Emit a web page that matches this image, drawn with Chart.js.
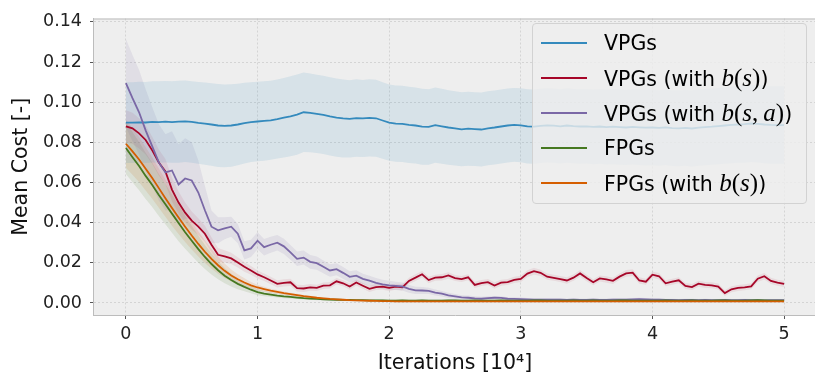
<!DOCTYPE html>
<html><head><meta charset="utf-8">
<script src="https://cdn.jsdelivr.net/npm/chart.js@4.4.0/dist/chart.umd.min.js"></script>
<style>
html,body{margin:0;padding:0;overflow:hidden;background:#fff;}
#wrap{position:relative;width:818px;height:376px;}
#legend{position:absolute;left:532px;top:23px;width:275px;height:181px;box-sizing:border-box;background:rgba(238,238,238,0.8);border:1px solid #d2d2d2;border-radius:4px;font-family:'DejaVu Sans';font-size:20.5px;color:#000;}
.row{position:absolute;left:0;width:100%;height:30px;}
.sw{position:absolute;left:8px;top:14px;width:46px;height:2px;}
.lbl{position:absolute;left:71px;top:0;line-height:30px;white-space:nowrap;}
.mi{font-family:'Liberation Serif';font-style:italic;font-size:25px;}
.mu{font-family:'Liberation Serif';font-size:25px;}
</style></head>
<body><div id="wrap"><canvas id="c" width="818" height="376"></canvas><div id="legend"></div></div>
<script>
// ---------- data ----------
const iterations = [0,0.05,0.1,0.15,0.2,0.25,0.3,0.35,0.4,0.45,0.5,
0.55,0.6,0.65,0.7,0.75,0.8,0.85,0.9,0.95,1,
1.05,1.1,1.15,1.2,1.25,1.3,1.35,1.4,1.45,1.5,
1.55,1.6,1.65,1.7,1.75,1.8,1.85,1.9,1.95,2,
2.05,2.1,2.15,2.2,2.25,2.3,2.35,2.4,2.45,2.5,
2.55,2.6,2.65,2.7,2.75,2.8,2.85,2.9,2.95,3,
3.05,3.1,3.15,3.2,3.25,3.3,3.35,3.4,3.45,3.5,
3.55,3.6,3.65,3.7,3.75,3.8,3.85,3.9,3.95,4,
4.05,4.1,4.15,4.2,4.25,4.3,4.35,4.4,4.45,4.5,
4.55,4.6,4.65,4.7,4.75,4.8,4.85,4.9,4.95,5];

const xTickValues = [0,1,2,3,4,5];
const yTickValues = [0,0.02,0.04,0.06,0.08,0.10,0.12,0.14];

const seriesLabels = ["VPGs","VPGs (with b(s))","VPGs (with b(s,a))","FPGs","FPGs (with b(s))"];

const vpgMean = [0.0898,0.0898,0.0900,0.0899,0.0902,0.0901,0.0903,0.0901,0.0903,0.0905,0.0902,
0.0897,0.0893,0.0889,0.0884,0.0882,0.0884,0.0889,0.0896,0.0901,0.0904,
0.0907,0.0910,0.0916,0.0923,0.0930,0.0938,0.0950,0.0947,0.0942,0.0937,
0.0929,0.0923,0.0919,0.0917,0.0921,0.0919,0.0922,0.0920,0.0909,0.0898,
0.0893,0.0892,0.0887,0.0884,0.0878,0.0877,0.0886,0.0880,0.0874,0.0870,
0.0865,0.0868,0.0866,0.0864,0.0870,0.0874,0.0879,0.0884,0.0887,0.0885,
0.0880,0.0878,0.0882,0.0885,0.0883,0.0880,0.0884,0.0881,0.0879,0.0880,
0.0877,0.0879,0.0876,0.0878,0.0876,0.0874,0.0877,0.0875,0.0873,0.0874,
0.0872,0.0875,0.0871,0.0870,0.0872,0.0869,0.0873,0.0876,0.0878,0.0881,
0.0884,0.0887,0.0889,0.0891,0.0894,0.0892,0.0889,0.0887,0.0886,0.0886];
const vpgStd = [0.0201,0.0201,0.0202,0.0202,0.0202,0.0203,0.0203,0.0203,0.0204,0.0203,0.0203,
0.0204,0.0205,0.0206,0.0207,0.0206,0.0205,0.0203,0.0201,0.0199,0.0198,
0.0198,0.0197,0.0197,0.0198,0.0199,0.0200,0.0198,0.0196,0.0195,0.0195,
0.0195,0.0195,0.0194,0.0193,0.0193,0.0192,0.0192,0.0192,0.0191,0.0190,
0.0190,0.0190,0.0190,0.0189,0.0189,0.0188,0.0187,0.0187,0.0186,0.0185,
0.0184,0.0184,0.0184,0.0184,0.0184,0.0184,0.0184,0.0184,0.0184,0.0184,
0.0185,0.0185,0.0185,0.0185,0.0185,0.0185,0.0185,0.0185,0.0185,0.0185,
0.0186,0.0186,0.0186,0.0187,0.0187,0.0187,0.0187,0.0188,0.0188,0.0188,
0.0188,0.0188,0.0189,0.0189,0.0189,0.0190,0.0190,0.0190,0.0190,0.0190,
0.0191,0.0191,0.0191,0.0192,0.0192,0.0192,0.0193,0.0193,0.0193,0.0193];

const vpgBsMean = [0.0880,0.0870,0.0845,0.0812,0.0760,0.0700,0.0655,0.0565,0.0500,0.0450,0.0410,
0.0380,0.0345,0.0290,0.0240,0.0232,0.0222,0.0202,0.0180,0.0162,0.0142,
0.0128,0.0112,0.0095,0.0100,0.0103,0.0074,0.0072,0.0078,0.0075,0.0086,
0.0088,0.0108,0.0098,0.0082,0.0102,0.0086,0.0070,0.0079,0.0081,0.0075,
0.0081,0.0078,0.0110,0.0126,0.0143,0.0114,0.0126,0.0128,0.0137,0.0124,
0.0119,0.0128,0.0090,0.0099,0.0104,0.0087,0.0101,0.0104,0.0115,0.0120,
0.0146,0.0158,0.0150,0.0131,0.0125,0.0119,0.0112,0.0126,0.0147,0.0124,
0.0103,0.0122,0.0117,0.0110,0.0131,0.0147,0.0151,0.0112,0.0106,0.0141,
0.0133,0.0098,0.0106,0.0113,0.0085,0.0079,0.0096,0.0090,0.0088,0.0082,
0.0049,0.0068,0.0075,0.0078,0.0083,0.0121,0.0133,0.0110,0.0101,0.0095];
const vpgBsStd = [0.0080,0.0078,0.0075,0.0072,0.0068,0.0065,0.0062,0.0060,0.0055,0.0050,0.0045,
0.0042,0.0040,0.0037,0.0034,0.0031,0.0028,0.0026,0.0024,0.0022,0.0020,
0.0019,0.0019,0.0018,0.0018,0.0018,0.0017,0.0017,0.0017,0.0016,0.0016,
0.0016,0.0016,0.0015,0.0016,0.0015,0.0015,0.0016,0.0015,0.0015,0.0015,
0.0015,0.0016,0.0016,0.0017,0.0016,0.0016,0.0015,0.0016,0.0016,0.0015,
0.0015,0.0015,0.0016,0.0015,0.0015,0.0016,0.0015,0.0015,0.0016,0.0016,
0.0017,0.0017,0.0016,0.0016,0.0015,0.0015,0.0016,0.0016,0.0017,0.0016,
0.0015,0.0015,0.0016,0.0015,0.0016,0.0017,0.0017,0.0016,0.0015,0.0016,
0.0016,0.0015,0.0015,0.0015,0.0015,0.0015,0.0015,0.0015,0.0015,0.0015,
0.0014,0.0015,0.0015,0.0015,0.0015,0.0016,0.0016,0.0015,0.0015,0.0015];

const vpgBsaMean = [0.1095,0.1020,0.0950,0.0860,0.0780,0.0700,0.0650,0.0660,0.0590,0.0620,0.0610,
0.0550,0.0462,0.0380,0.0362,0.0372,0.0380,0.0345,0.0262,0.0272,0.0310,
0.0278,0.0290,0.0300,0.0282,0.0252,0.0220,0.0226,0.0205,0.0198,0.0180,
0.0162,0.0168,0.0150,0.0130,0.0136,0.0120,0.0111,0.0100,0.0093,0.0088,
0.0085,0.0082,0.0070,0.0063,0.0062,0.0060,0.0052,0.0046,0.0038,0.0033,
0.0028,0.0026,0.0023,0.0021,0.0024,0.0026,0.0025,0.0021,0.0020,0.0019,
0.0018,0.0017,0.0017,0.0016,0.0017,0.0016,0.0015,0.0016,0.0015,0.0015,
0.0016,0.0015,0.0015,0.0016,0.0017,0.0016,0.0018,0.0019,0.0018,0.0017,
0.0016,0.0015,0.0015,0.0014,0.0015,0.0015,0.0014,0.0015,0.0014,0.0014,
0.0015,0.0014,0.0014,0.0015,0.0014,0.0014,0.0013,0.0014,0.0014,0.0014];
const vpgBsaStd = [0.0220,0.0215,0.0210,0.0205,0.0195,0.0190,0.0190,0.0195,0.0200,0.0200,0.0190,
0.0160,0.0120,0.0080,0.0065,0.0055,0.0050,0.0048,0.0045,0.0043,0.0042,
0.0041,0.0040,0.0039,0.0038,0.0037,0.0036,0.0035,0.0034,0.0033,0.0032,
0.0031,0.0030,0.0029,0.0028,0.0027,0.0026,0.0025,0.0024,0.0023,0.0022,
0.0021,0.0020,0.0019,0.0018,0.0017,0.0016,0.0015,0.0014,0.0013,0.0012,
0.0011,0.0011,0.0010,0.0010,0.0009,0.0009,0.0009,0.0008,0.0008,0.0008,
0.0007,0.0007,0.0007,0.0007,0.0007,0.0007,0.0007,0.0007,0.0007,0.0007,
0.0007,0.0007,0.0007,0.0007,0.0007,0.0007,0.0007,0.0007,0.0007,0.0007,
0.0006,0.0006,0.0006,0.0006,0.0006,0.0006,0.0006,0.0006,0.0006,0.0006,
0.0006,0.0006,0.0006,0.0006,0.0006,0.0006,0.0006,0.0006,0.0006,0.0006];

const fpgMean = [0.0772,0.0726,0.0682,0.0633,0.0588,0.0538,0.0492,0.0445,0.0398,0.0352,0.0310,
0.0268,0.0229,0.0194,0.0163,0.0136,0.0114,0.0095,0.0080,0.0066,0.0054,
0.0047,0.0042,0.0037,0.0033,0.0030,0.0027,0.0024,0.0022,0.0020,0.0018,
0.0017,0.0016,0.0015,0.0015,0.0014,0.0014,0.0013,0.0013,0.0013,0.0012,
0.0012,0.0013,0.0012,0.0012,0.0013,0.0012,0.0012,0.0012,0.0013,0.0013,
0.0012,0.0012,0.0013,0.0012,0.0012,0.0012,0.0013,0.0012,0.0012,0.0012,
0.0012,0.0013,0.0013,0.0012,0.0012,0.0012,0.0012,0.0013,0.0012,0.0012,
0.0013,0.0012,0.0012,0.0012,0.0013,0.0013,0.0012,0.0012,0.0012,0.0012,
0.0012,0.0013,0.0012,0.0012,0.0012,0.0013,0.0012,0.0012,0.0012,0.0013,
0.0013,0.0012,0.0012,0.0012,0.0013,0.0014,0.0013,0.0012,0.0012,0.0012];
const fpgStd = [0.0130,0.0125,0.0120,0.0115,0.0110,0.0105,0.0100,0.0095,0.0090,0.0082,0.0075,
0.0068,0.0060,0.0052,0.0045,0.0038,0.0032,0.0027,0.0022,0.0018,0.0015,
0.0013,0.0011,0.0010,0.0009,0.0008,0.0007,0.0007,0.0006,0.0006,0.0005,
0.0005,0.0005,0.0005,0.0005,0.0005,0.0005,0.0005,0.0005,0.0005,0.0005,
0.0005,0.0005,0.0005,0.0005,0.0005,0.0005,0.0005,0.0005,0.0005,0.0005,
0.0005,0.0005,0.0005,0.0005,0.0005,0.0005,0.0005,0.0005,0.0005,0.0005,
0.0005,0.0005,0.0005,0.0005,0.0005,0.0005,0.0005,0.0005,0.0005,0.0005,
0.0005,0.0005,0.0005,0.0005,0.0005,0.0005,0.0005,0.0005,0.0005,0.0005,
0.0005,0.0005,0.0005,0.0005,0.0005,0.0005,0.0005,0.0005,0.0005,0.0005,
0.0005,0.0005,0.0005,0.0005,0.0005,0.0005,0.0005,0.0005,0.0005,0.0005];

const fpgBsMean = [0.0793,0.0755,0.0715,0.0668,0.0622,0.0572,0.0522,0.0473,0.0426,0.0380,0.0336,
0.0294,0.0255,0.0220,0.0188,0.0160,0.0137,0.0118,0.0102,0.0088,0.0077,
0.0069,0.0061,0.0055,0.0049,0.0044,0.0039,0.0034,0.0030,0.0026,0.0023,
0.0020,0.0018,0.0016,0.0014,0.0013,0.0012,0.0011,0.0010,0.0009,0.0009,
0.0008,0.0008,0.0008,0.0008,0.0008,0.0008,0.0008,0.0008,0.0008,0.0008,
0.0008,0.0008,0.0008,0.0008,0.0008,0.0008,0.0008,0.0008,0.0008,0.0008,
0.0008,0.0008,0.0008,0.0008,0.0008,0.0008,0.0008,0.0008,0.0008,0.0008,
0.0008,0.0008,0.0008,0.0008,0.0008,0.0008,0.0008,0.0008,0.0008,0.0008,
0.0008,0.0008,0.0008,0.0008,0.0008,0.0008,0.0008,0.0008,0.0008,0.0008,
0.0008,0.0008,0.0008,0.0008,0.0008,0.0008,0.0008,0.0008,0.0008,0.0008];
const fpgBsStd = [0.0120,0.0116,0.0112,0.0108,0.0103,0.0098,0.0093,0.0088,0.0083,0.0076,0.0070,
0.0063,0.0056,0.0049,0.0042,0.0036,0.0030,0.0025,0.0021,0.0017,0.0014,
0.0012,0.0010,0.0009,0.0008,0.0007,0.0007,0.0006,0.0006,0.0005,0.0005,
0.0005,0.0005,0.0005,0.0005,0.0004,0.0004,0.0004,0.0004,0.0004,0.0004,
0.0004,0.0004,0.0004,0.0004,0.0004,0.0004,0.0004,0.0004,0.0004,0.0004,
0.0004,0.0004,0.0004,0.0004,0.0004,0.0004,0.0004,0.0004,0.0004,0.0004,
0.0004,0.0004,0.0004,0.0004,0.0004,0.0004,0.0004,0.0004,0.0004,0.0004,
0.0004,0.0004,0.0004,0.0004,0.0004,0.0004,0.0004,0.0004,0.0004,0.0004,
0.0004,0.0004,0.0004,0.0004,0.0004,0.0004,0.0004,0.0004,0.0004,0.0004,
0.0004,0.0004,0.0004,0.0004,0.0004,0.0004,0.0004,0.0004,0.0004,0.0004];

// ---------- styles ----------
const series = [
  {label: seriesLabels[0], mean: vpgMean, std: vpgStd, color:'#348ABD', band:'rgba(52,138,189,0.12)', order:5},
  {label: seriesLabels[1], mean: vpgBsMean, std: vpgBsStd, color:'#A60628', band:'rgba(166,6,40,0.08)', order:4},
  {label: seriesLabels[2], mean: vpgBsaMean, std: vpgBsaStd, color:'#7A68A6', band:'rgba(122,104,166,0.12)', order:3},
  {label: seriesLabels[3], mean: fpgMean, std: fpgStd, color:'#467821', band:'rgba(70,120,33,0.12)', order:2},
  {label: seriesLabels[4], mean: fpgBsMean, std: fpgBsStd, color:'#D55E00', band:'rgba(213,94,0,0.12)', order:1}
];

const datasets = [];
series.forEach(s => {
  datasets.push({label: s.label+' upper', data: iterations.map((x,i)=>({x, y: s.mean[i]+s.std[i]})),
    borderWidth:0, pointRadius:0, fill:'+1', backgroundColor:s.band, order:20});
  datasets.push({label: s.label+' lower', data: iterations.map((x,i)=>({x, y: s.mean[i]-s.std[i]})),
    borderWidth:0, pointRadius:0, fill:false, order:20});
});
series.forEach(s => {
  datasets.push({label: s.label, data: iterations.map((x,i)=>({x, y: s.mean[i]})),
    borderColor: s.color, borderWidth:1.8, pointRadius:0, fill:false, tension:0, order:s.order});
});

const bgPlugin = {
  id:'bg',
  beforeDraw(chart){
    const {ctx, chartArea:a} = chart;
    ctx.save(); ctx.fillStyle='#eeeeee'; ctx.fillRect(a.left,a.top,a.right-a.left,a.bottom-a.top); ctx.restore();
  },
  afterDraw(chart){
    const {ctx, chartArea:a} = chart;
    ctx.save(); ctx.strokeStyle='#bcbcbc'; ctx.lineWidth=1;
    ctx.beginPath(); ctx.moveTo(a.left, a.top+0.5); ctx.lineTo(a.right, a.top+0.5);
    ctx.moveTo(a.right-0.5, a.top); ctx.lineTo(a.right-0.5, a.bottom); ctx.stroke(); ctx.restore();
  }
};

const tickFont = {family:'DejaVu Sans', size:17.5};
const titleFont = {family:'DejaVu Sans', size:20.5};

new Chart(document.getElementById('c'), {
  type:'line',
  data:{datasets},
  plugins:[bgPlugin],
  options:{
    responsive:false, animation:false, normalized:true,
    layout:{padding:{top:13, right:1, left:0, bottom:0}},
    plugins:{legend:{display:false}, tooltip:{enabled:false}},
    scales:{
      x:{type:'linear', min:-0.25, max:5.25,
        afterBuildTicks: s => { s.ticks = xTickValues.map(v=>({value:v})); },
        afterFit: s => { s.height = 61; },
        grid:{color:'#cdcdcd', lineWidth:0.8, tickColor:'#555', tickLength:4, tickWidth:1},
        border:{color:'#bcbcbc', width:1, dash:[2,2]},
        ticks:{font:tickFont, color:'#222', padding:5, maxRotation:0, autoSkip:false, callback: v => String(v)},
        title:{display:true, text:'Iterations [10\u2074]', font:titleFont, color:'#111', padding:{top:0, bottom:0}}
      },
      y:{type:'linear', min:-0.006, max:0.1417,
        afterBuildTicks: s => { s.ticks = yTickValues.map(v=>({value:v})); },
        afterFit: s => { s.width = 93; },
        grid:{color:'#cdcdcd', lineWidth:0.8, tickColor:'#555', tickLength:3, tickWidth:1},
        border:{color:'#bcbcbc', width:1, dash:[2,2]},
        ticks:{font:tickFont, color:'#222', padding:8, autoSkip:false, callback: v => v.toFixed(2)},
        title:{display:true, text:'Mean Cost [-]', font:titleFont, color:'#111', padding:{top:9, bottom:0}}
      }
    }
  }
});

// ---------- legend (HTML text) ----------
const legend = document.getElementById('legend');
function renderLabel(text){
  const m = text.match(/^(.*\(with )(b\([^)]*\))(\))$/);
  if(!m) return document.createTextNode(text);
  const span = document.createElement('span');
  span.appendChild(document.createTextNode(m[1]));
  for(const ch of m[2]){
    const e = document.createElement('span');
    if(/[a-z]/.test(ch)){ e.className='mi'; e.textContent=ch; }
    else if(ch===','){ e.className='mu'; e.textContent=',\u2009'; }
    else { e.className='mu'; e.textContent=ch; }
    span.appendChild(e);
  }
  span.appendChild(document.createTextNode(m[3]));
  return span;
}
series.forEach((s,i) => {
  const row = document.createElement('div'); row.className='row'; row.style.top=(4+35*i)+'px';
  const sw = document.createElement('div'); sw.className='sw'; sw.style.background=s.color; row.appendChild(sw);
  const lb = document.createElement('div'); lb.className='lbl'; lb.appendChild(renderLabel(s.label)); row.appendChild(lb);
  legend.appendChild(row);
});
</script></body></html>
